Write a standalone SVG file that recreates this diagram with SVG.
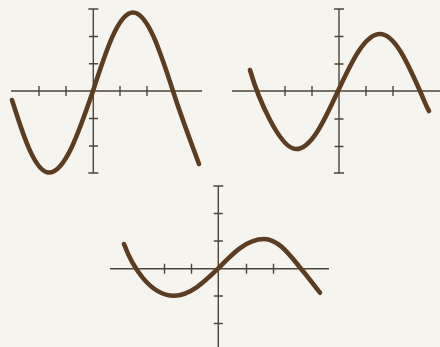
<svg xmlns="http://www.w3.org/2000/svg" width="440" height="347" viewBox="0 0 440 347">
<style>
.ax{stroke:#4d4439;stroke-width:1.4;fill:none}
.tk{stroke:#4d4439;stroke-width:1.4;fill:none}
.cv{stroke:#5c3d22;stroke-width:4.6;fill:none;stroke-linecap:round;stroke-linejoin:round}
</style>
<rect width="440" height="347" fill="#f6f4ee"/>
<g id="graph1">
<path class="ax" d="M11,91H202M93.3,9V173"/>
<path class="tk" d="M88.3,9h10M88.3,173h10M89,36.5h9M89,63.8h9M89,118.5h9M89,146h9M39,86v10M66,86v10M120,86v10M147,86v10"/>
<path class="cv" d="M12,100C21,128 34,172.5 49,172.5C64.9,172.5 78.7,132.7 93,91C106,50.8 118.5,12.5 133,12.5C147.5,12.5 160,50.8 173,91C182,119 192,145 199,164"/>
</g>
<g id="graph2">
<path class="ax" d="M232,91H440M339,9V173"/>
<path class="tk" d="M334,9h10M334,173h10M334.5,36.5h9M334.5,64h9M334.5,119h9M334.5,146.5h9M285,86v10M312,86v10M366,86v10M393,86v10"/>
<path class="cv" d="M250,70C258,98 280,149 296,149C311.2,149 324.3,120.7 338,91C351.7,61.8 364.8,34 380,34C394.5,34 407,61.8 420,91C424,100 426,106 429,111"/>
</g>
<g id="graph3">
<path class="ax" d="M110,268.7H329M218.3,186V347"/>
<path class="tk" d="M213.3,186h10M213.8,213.5h9M213.8,241h9M213.8,296h9M213.8,323.5h9M164.5,263.7v10M191.5,263.7v10M246.5,263.7v10M273.5,263.7v10"/>
<path class="cv" d="M124,244C132,266 150,295.7 174,295.7C189.9,295.7 203.7,282.5 218,268.7C232.7,253.5 246.7,239 264,239C277.8,239 288.6,253.5 301,268.7C308,277 314,285 320,292.7"/>
</g>
</svg>
